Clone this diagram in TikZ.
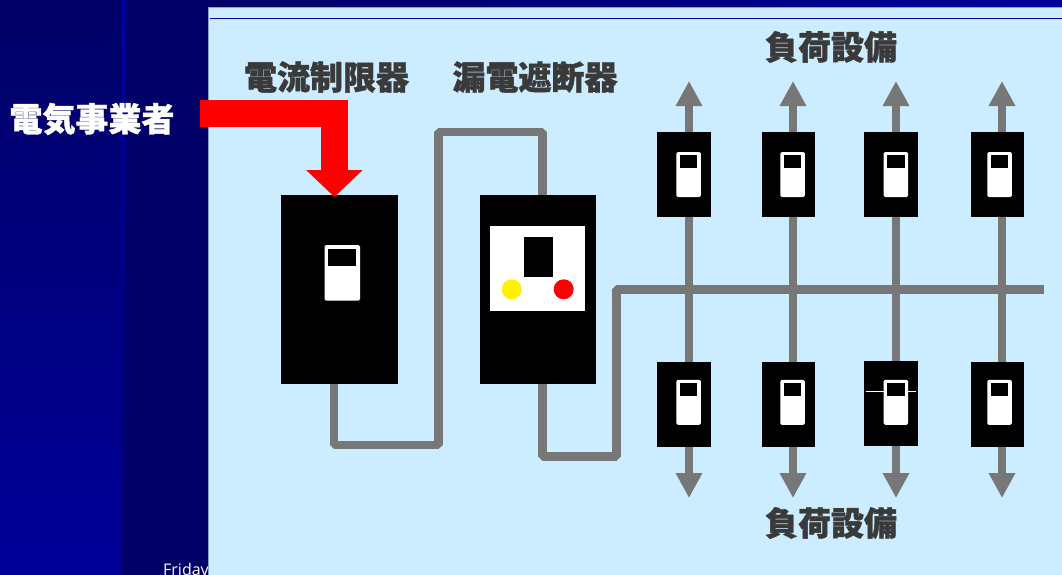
\documentclass[tikz,border=0pt]{standalone}
\usepackage{fontspec}
\usetikzlibrary{arrows.meta}
\newfontfamily\cjk[BoldFeatures={FakeBold=1.2}]{Noto Sans CJK JP}
\setsansfont{Open Sans}
\definecolor{navy}{HTML}{000066}
\definecolor{bright}{HTML}{000099}
\definecolor{midblue}{HTML}{000080}
\definecolor{stripe}{HTML}{0000A8}
\definecolor{panel}{HTML}{CCECFF}
\definecolor{paneledge}{HTML}{8A9CD0}
\definecolor{wire}{HTML}{777777}
\definecolor{labeltext}{HTML}{3A3A3A}
\tikzset{
  blk/.style={fill=black,draw=none,inner sep=0pt,outer sep=0pt,minimum width=#1},
  whitecell/.style={fill=white,draw=none,rounded corners=1.5pt,inner sep=0pt,outer sep=0pt},
  wirepath/.style={draw=wire,line width=8.6pt,line join=bevel},
  load/.style={draw=wire,line width=8.6pt,-{Triangle[length=25pt,width=25pt,fill=wire]}},
  label/.style={font=\cjk\bfseries\fontsize{33}{33}\selectfont,text=labeltext,inner sep=0pt},
}
% #1 name, #2 x-left, #3 y-top, #4 cell centre x, #5 cell centre y
\newcommand{\meterbox}[5]{%
  \node[blk=53.5pt,minimum height=85pt] (#1) at (#2+26.75,#3+42.5) {};
  \node[whitecell,minimum width=24.5pt,minimum height=45pt] (#1w) at (#4,#5) {};
  \node[fill=black,inner sep=0pt,minimum width=17.5pt,minimum height=13pt] (#1i) at (#4,#5-13) {};
}
\begin{document}
\begin{tikzpicture}[x=1pt,y=-1pt]
\useasboundingbox (0,0) rectangle (1062,574);
% slide background
\fill[navy] (-2,-2) rectangle (1066,580);
\shade[top color=navy,bottom color=bright,middle color=midblue] (-2,0) rectangle (122,580);
\shade[top color=stripe,bottom color=navy] (122,0) rectangle (125,580);
\shade[left color=navy,right color=bright] (208,-2) rectangle (1066,7);
\node[font=\sffamily\fontsize{16}{16}\selectfont,text=white,anchor=base west,inner sep=0pt] (day) at (163,575) {Friday};
\fill[panel,draw=paneledge,line width=1pt] (208.5,7.5) rectangle (1070,582);
\coordinate (ruleA) at (210,18.5);
\coordinate (ruleB) at (1066,18.5);
\draw[bright,line width=1pt] (ruleA) -- (ruleB);

% labels
\node[label,text=white] (supplier) at (92,119) {電気事業者};
\node[label] (limlabel) at (326.5,77) {電流制限器};
\node[label] (brklabel) at (535,77) {漏電遮断器};
\node[label] (loadtop) at (831,47) {負荷設備};
\node[label] (loadbot) at (831,523) {負荷設備};

% junctions
\coordinate (a1) at (334,380);
\coordinate (a2) at (334,445);
\coordinate (a3) at (438.5,445);
\coordinate (a4) at (438.5,132);
\coordinate (a5) at (542.5,132);
\coordinate (a6) at (542.5,200);
\coordinate (c1) at (542.5,380);
\coordinate (c2) at (542.5,456.5);
\coordinate (c3) at (616.5,456.5);
\coordinate (c4) at (616.5,289.7);
\coordinate (c5) at (1044,289.7);
\draw[wirepath] (a1) -- (a2) -- (a3) -- (a4) -- (a5) -- (a6);
\draw[wirepath] (c1) -- (c2) -- (c3) -- (c4) -- (c5);

% feeders with arrows
\foreach \n/\x in {1/689,2/793,3/896,4/1002}{
  \coordinate (u\n) at (\x,81);
  \coordinate (d\n) at (\x,498);
  \draw[load] (\x,290) -- (u\n);
  \draw[load] (\x,290) -- (d\n);
}

% load breakers
\meterbox{t1}{657}{132}{688.6}{174.5}
\meterbox{t2}{761.5}{132}{792.5}{174.5}
\meterbox{t3}{864}{131.5}{895.8}{174.5}
\meterbox{t4}{970.5}{132}{999.5}{174.5}
\meterbox{b1}{657}{362}{688.6}{402.3}
\meterbox{b2}{761.5}{362}{792.5}{402.3}
\meterbox{b3}{864}{361}{895.8}{402.3}
\meterbox{b4}{970.5}{362}{999.5}{402.3}
% highlight line on the third lower breaker
\coordinate (hl) at (865.5,391.5);
\coordinate (hr) at (916,391.5);
\draw[white,line width=0.8pt] (hl) -- (b3w.west |- hl);
\draw[white,line width=0.8pt] (b3w.east |- hr) -- (hr);

% current limiter
\node[blk=116.5pt,minimum height=189.5pt] (lim) at (339.25,289.25) {};
\node[whitecell,minimum width=35.5pt,minimum height=55.5pt] (limw) at (342.25,272.75) {};
\node[fill=black,inner sep=0pt,minimum width=28pt,minimum height=17pt] (limi) at (342,257.5) {};

% earth leakage breaker
\node[blk=116pt,minimum height=189pt] (brk) at (538,289.5) {};
\node[fill=white,inner sep=0pt,minimum width=95pt,minimum height=84.7pt] (brkw) at (537.8,268.35) {};
\node[fill=black,inner sep=0pt,minimum width=29.3pt,minimum height=39.7pt] (brki) at (538.65,257.15) {};
\node[circle,fill=yellow,inner sep=0pt,minimum size=20pt] (ylamp) at (511.7,289.3) {};
\node[circle,fill=red,inner sep=0pt,minimum size=20pt] (rlamp) at (563.7,289.3) {};

% red supply arrow
\coordinate (s0) at (200,113.4);
\coordinate (s1) at (334.4,113.4);
\coordinate (s2) at (334.4,197);
\draw[red,line width=26.8pt,-{Triangle[length=27pt,width=55pt,fill=red]}] (s0) -- (s1) -- (s2);
\end{tikzpicture}
\end{document}
